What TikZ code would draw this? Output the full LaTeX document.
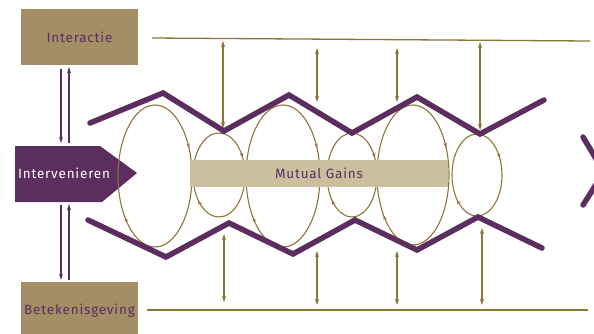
\documentclass[tikz,border=0pt]{standalone}
\usepackage{fontspec}
\setmainfont{Fira Sans}[LetterSpace=6]
\usetikzlibrary{arrows.meta,decorations.markings}
\definecolor{purp}{HTML}{5B2E5F}
\definecolor{gold}{HTML}{8C7636}
\definecolor{tanbg}{HTML}{A38E66}
\definecolor{sand}{HTML}{CCBF9F}
\newcommand\loopell[4]{%
  \draw[loopline] ({#1+#3},#2) arc[start angle=0,end angle=360,x radius=#3,y radius=#4];}
\begin{document}
\begin{tikzpicture}[x=1pt,y=-1pt,
  zig/.style={purp,line width=5.5pt,line cap=round,line join=miter},
  lbl/.style={font=\fontsize{13.5}{15}\selectfont},
  tanbox/.style={fill=tanbg,minimum width=117pt,text=purp,lbl},
  garr/.style={gold,line width=1.2pt,{Stealth[length=6pt,width=4pt]}-{Stealth[length=6pt,width=4pt]}},
  parr/.style={purp,line width=1.3pt,-{Stealth[length=6pt,width=4pt]}},
  hline/.style={gold,line width=#1},
  loopline/.style={gold,line width=1.1pt,postaction={decorate},
    decoration={markings,
      mark=at position 0.38 with {\arrow{Stealth[length=5pt,width=3.5pt]}},
      mark=at position 0.92 with {\arrow{Stealth[length=5pt,width=3.5pt]}}}}]
\useasboundingbox (0,0) rectangle (594,333);
% boxes
\node[tanbox,minimum height=56pt] (inter) at (79.5,37) {Interactie};
\node[tanbox,minimum height=58pt] (betek) at (79.5,311) {Betekenisgeving};
\fill[purp] (15,146) -- (100,146) -- (137,173) -- (102,202) -- (15,202) -- cycle;
\node[text=white,minimum width=98pt,minimum height=56pt,lbl] (interv) at (64,173) {Intervenieren};
% purple arrows
\draw[parr] ([xshift=-18.5pt,yshift=-4pt]inter.south) -- ([xshift=-3pt,yshift=2pt]interv.north);
\draw[parr] ([xshift=5pt,yshift=2pt]interv.north) -- ([xshift=-10.5pt,yshift=-2pt]inter.south);
\draw[parr] ([xshift=-3pt,yshift=-4pt]interv.south) -- ([xshift=-18.5pt,yshift=2pt]betek.north);
\draw[parr] ([xshift=-10.5pt,yshift=2pt]betek.north) -- ([xshift=5pt,yshift=-3pt]interv.south);
% gold lines
\coordinate (tl1) at (152,38); \coordinate (tl2) at (590,41);
\coordinate (bl1) at (147,310); \coordinate (bl2) at (588,310);
\draw[hline=1.3pt] (tl1) -- (tl2);
\draw[hline=2.4pt] (bl1) -- (bl2);
% loops
\loopell{155}{176}{37}{71}
\loopell{219}{175}{26}{42}
\loopell{283}{176}{37}{71}
\loopell{352}{175}{25}{42}
\loopell{413}{175}{36}{70}
\loopell{477}{175}{25}{41}
% mutual gains bar
\node[fill=sand,minimum width=258pt,minimum height=27pt,text=purp,lbl] (mg) at (319,173.5) {Mutual Gains};
% zigzags
\draw[zig] (90,123) -- (163,93) -- (224,131) -- (289,95) -- (352,133) -- (417,97) -- (480,134) -- (544,100);
\draw[zig] (88,220) -- (166,257) -- (229,223) -- (293,254) -- (355,220) -- (417,250) -- (478,217) -- (542,248);
\draw[zig] (583,137) -- (604,172) -- (583,205);
% double arrows
\draw[garr] (223,41) -- (223,128);
\draw[garr] (317,48) -- (317,102);
\draw[garr] (397,48) -- (397,102);
\draw[garr] (480,42) -- (480,130);
\draw[garr] (224,234) -- (224,302);
\draw[garr] (317,251) -- (317,305);
\draw[garr] (397,251) -- (397,305);
\draw[garr] (482,228) -- (482,305);
\end{tikzpicture}
\end{document}
